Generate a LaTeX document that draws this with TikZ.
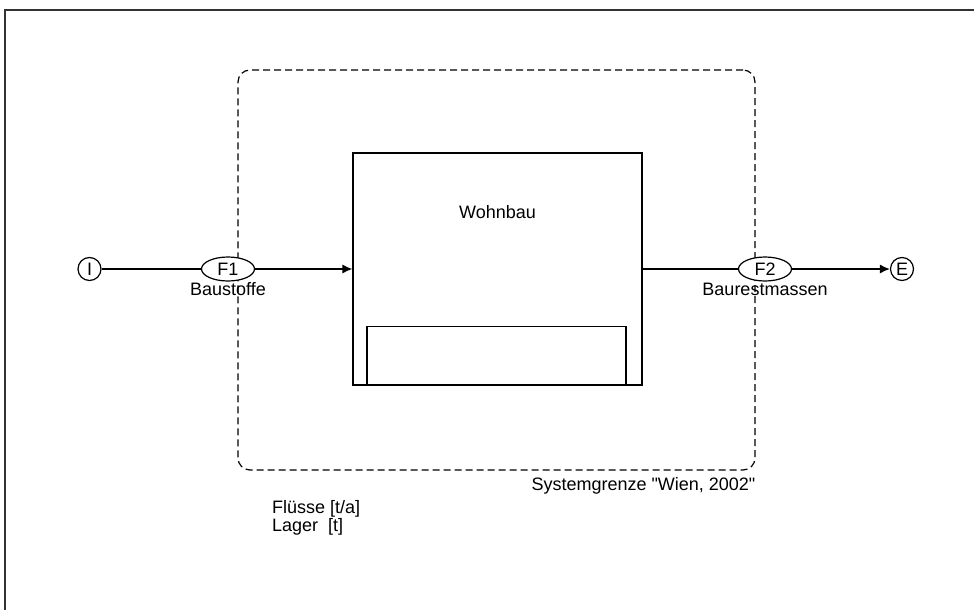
\documentclass[tikz,border=0pt]{standalone}
\usepackage{fontspec}
\setmainfont{Liberation Sans}
\usetikzlibrary{arrows.meta,shapes.geometric,positioning}

\begin{document}
\begin{tikzpicture}[x=1pt,y=-1pt,
  every node/.style={font=\fontsize{18}{18}\selectfont, inner sep=0pt},
  process/.style={draw, line width=1.2pt, minimum width=289pt, minimum height=232pt},
  stock/.style={draw, line width=1.2pt, minimum width=259pt, minimum height=58pt},
  sysbound/.style={draw, line width=1.2pt, dash pattern=on 7pt off 4pt, rounded corners=12pt,
    minimum width=517pt, minimum height=400pt},
  flow/.style={draw, line width=1.2pt, ellipse, fill=white, minimum width=53pt, minimum height=24pt},
  io/.style={draw, line width=1.2pt, circle, fill=white, minimum size=23pt},
  conn/.style={line width=1.2pt},
  arr/.style={line width=1.2pt, -{Latex[length=10pt,width=9pt]}}]
\useasboundingbox (0,0) rectangle (974,610);
\draw [line width=1.5pt, black!80] (5,610) -- (5,10) -- (974,10);
\node [sysbound] (system) at (496.5,270) {};
\node [anchor=north east] (sysname) at ([yshift=-7pt]system.south east) {Systemgrenze \textquotedbl Wien, 2002\textquotedbl};
\node [process] (wohnbau) at (497.5,269) {};
\node [below=53pt of wohnbau.north] (wohnbautext) {Wohnbau};
\node [stock, anchor=south] (lager) at (496.5,385) {};
\node [io] (in) at (89.5,269) {I};
\node [flow, label={[label distance=1pt]below:Baustoffe}] (f1) at (228,269) {F1};
\node [flow, label={[label distance=1pt]below:Baurestmassen}] (f2) at (765,269) {F2};
\node [io] (out) at (902,269) {E};
\draw [conn] (in) -- (f1);
\draw [arr] (f1) -- (wohnbau);
\draw [conn] (wohnbau) -- (f2);
\draw [arr] (f2) -- (out);
\node [anchor=west, align=left] (legend) at (272,518) {Flüsse [t/a]\\Lager\ \ [t]};
\end{tikzpicture}
\end{document}
